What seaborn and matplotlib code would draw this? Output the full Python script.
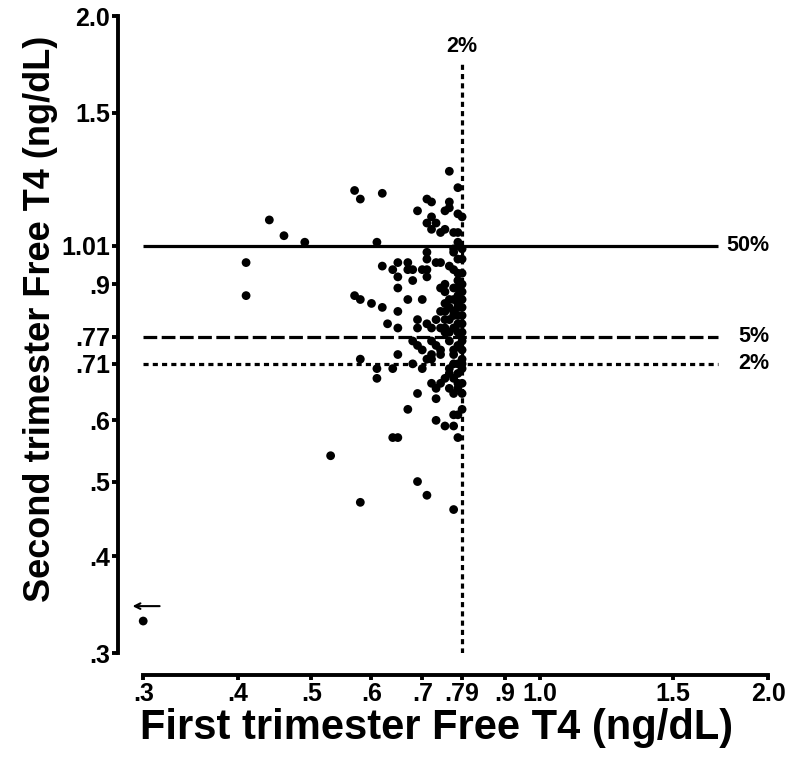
import matplotlib
matplotlib.use("Agg")
import matplotlib.pyplot as plt
import matplotlib.ticker as mticker
import pandas as pd
import seaborn as sns

# first / second trimester free T4 per subject (ng/dL)
first_fT4 = [
    0.76, 0.78, 0.57, 0.58, 0.62, 0.71, 0.72, 0.76, 0.76, 0.75, 0.69, 0.78, 0.79, 0.72,
    0.44, 0.71, 0.73, 0.72, 0.74, 0.75, 0.77, 0.78, 0.46, 0.49, 0.61, 0.78, 0.77, 0.77,
    0.78, 0.79, 0.71, 0.71, 0.41, 0.62, 0.64, 0.65, 0.67, 0.67, 0.68, 0.70, 0.65, 0.68,
    0.71, 0.71, 0.73, 0.74, 0.76, 0.77, 0.78, 0.74, 0.75, 0.65, 0.67, 0.70, 0.41, 0.57,
    0.58, 0.60, 0.62, 0.65, 0.63, 0.65, 0.69, 0.69, 0.71, 0.72,
    0.75, 0.77, 0.78, 0.79, 0.76, 0.78, 0.79, 0.75, 0.76, 0.78, 0.79, 0.74, 0.75, 0.77,
    0.78, 0.75, 0.76, 0.78, 0.79, 0.74, 0.75, 0.77, 0.78, 0.79, 0.76, 0.75, 0.73,
    0.79, 0.79, 0.79, 0.78, 0.77, 0.77, 0.78, 0.79,
    0.68, 0.69, 0.70, 0.71, 0.72, 0.72, 0.73, 0.74, 0.65, 0.72, 0.74, 0.58, 0.68, 0.70,
    0.64, 0.61, 0.61, 0.77, 0.76, 0.78, 0.79, 0.79, 0.79,
    0.76, 0.77, 0.78, 0.79, 0.77, 0.79, 0.76, 0.78,
    0.72, 0.73, 0.74, 0.75, 0.77, 0.78, 0.79, 0.76, 0.77, 0.78, 0.79, 0.69, 0.73, 0.67,
    0.77, 0.78, 0.79, 0.73, 0.75, 0.77, 0.64, 0.65, 0.78, 0.53, 0.69, 0.71, 0.58, 0.77,
    0.30,
]
second_fT4 = [
    1.26, 1.20, 1.19, 1.16, 1.18, 1.16, 1.15, 1.15, 1.13, 1.12, 1.12, 1.11, 1.10, 1.10,
    1.09, 1.08, 1.08, 1.06, 1.05, 1.06, 1.05, 1.05, 1.04, 1.02, 1.02, 1.02, 1.00, 0.99,
    0.97, 1.00, 0.99, 0.97, 0.96, 0.95, 0.94, 0.96, 0.96, 0.94, 0.94, 0.94, 0.92, 0.91,
    0.94, 0.92, 0.96, 0.96, 0.95, 0.94, 0.93, 0.89, 0.90, 0.89, 0.86, 0.86, 0.87, 0.87,
    0.86, 0.85, 0.84, 0.83, 0.80, 0.79, 0.81, 0.79, 0.80, 0.79,
    0.88, 0.89, 0.89, 0.88, 0.86, 0.87, 0.86, 0.85, 0.84, 0.84, 0.84, 0.83, 0.83, 0.82,
    0.82, 0.81, 0.81, 0.80, 0.80, 0.79, 0.79, 0.79, 0.78, 0.78, 0.78, 0.78, 0.81,
    0.97, 0.93, 0.90, 0.91, 0.86, 0.83, 0.85, 0.82,
    0.76, 0.75, 0.74, 0.72, 0.72, 0.76, 0.75, 0.74, 0.73, 0.73, 0.73, 0.72, 0.71, 0.70,
    0.70, 0.70, 0.68, 0.71, 0.70, 0.71, 0.70, 0.71, 0.72,
    0.76, 0.74, 0.75, 0.76, 0.73, 0.74, 0.69, 0.69,
    0.67, 0.66, 0.67, 0.68, 0.68, 0.67, 0.67, 0.66, 0.65, 0.66, 0.65, 0.65, 0.64, 0.62,
    0.61, 0.61, 0.62, 0.60, 0.59, 0.59, 0.57, 0.57, 0.57, 0.54, 0.50, 0.48, 0.47, 0.46,
    0.33,
]

# percentile cut-offs
second_cuts = [1.01, 0.77, 0.71]
second_cut_labels = ["50%", "5%", "2%"]
first_cut = 0.79
first_cut_label = "2%"

x_ticks = [0.3, 0.4, 0.5, 0.6, 0.7, 0.79, 0.9, 1.0, 1.5, 2.0]
x_tick_labels = [".3", ".4", ".5", ".6", ".7", ".79", ".9", "1.0", "1.5", "2.0"]
y_ticks = [0.3, 0.4, 0.5, 0.6, 0.71, 0.77, 0.9, 1.01, 1.5, 2.0]
y_tick_labels = [".3", ".4", ".5", ".6", ".71", ".77", ".9", "1.01", "1.5", "2.0"]

df = pd.DataFrame({"first": first_fT4, "second": second_fT4})

sns.set_style("ticks")
plt.rcParams["font.family"] = ["Liberation Sans", "DejaVu Sans"]
plt.rcParams["font.weight"] = "bold"
plt.rcParams["text.color"] = "black"
plt.rcParams["axes.labelcolor"] = "black"
plt.rcParams["axes.edgecolor"] = "black"
plt.rcParams["xtick.color"] = "black"
plt.rcParams["ytick.color"] = "black"

fig = plt.figure(figsize=(8, 7.71), dpi=100)
ax = fig.add_axes([0.179, 0.153, 0.781, 0.826])

sns.scatterplot(data=df, x="first", y="second", ax=ax, color="black",
                s=40, edgecolor="none", linewidth=0, clip_on=False, zorder=3)

ax.set_xscale("log")
ax.set_yscale("log")
ax.set_xlim(0.3, 2.0)
ax.set_ylim(0.3, 2.0)

# horizontal cut-off lines for the second trimester
line_styles = ["-", (0, (4.3, 1.4)), (0, (1.6, 1.3))]
line_end = 1.72
for cut, lab, ls in zip(second_cuts, second_cut_labels, line_styles):
    ax.plot([0.3, line_end], [cut, cut], color="black", lw=2.3, linestyle=ls,
            solid_capstyle="butt", dash_capstyle="butt", zorder=2)
    ax.text(2.01, cut, lab, ha="right", va="center", fontsize=15.5, fontweight="bold")

# vertical cut-off line for the first trimester
ax.plot([first_cut, first_cut], [0.3, 1.75], color="black", lw=2.3,
        linestyle=(0, (1.6, 1.3)), dash_capstyle="butt", zorder=2)
ax.text(first_cut, 1.83, first_cut_label, ha="center", va="center",
        fontsize=15.5, fontweight="bold")

# off-scale marker arrow
ax.annotate("", xy=(0.288, 0.345), xytext=(0.318, 0.345), annotation_clip=False,
            arrowprops=dict(arrowstyle="->", color="black", lw=1.5))

ax.xaxis.set_major_locator(mticker.FixedLocator(x_ticks))
ax.xaxis.set_major_formatter(mticker.FixedFormatter(x_tick_labels))
ax.yaxis.set_major_locator(mticker.FixedLocator(y_ticks))
ax.yaxis.set_major_formatter(mticker.FixedFormatter(y_tick_labels))
ax.xaxis.set_minor_locator(mticker.NullLocator())
ax.yaxis.set_minor_locator(mticker.NullLocator())

sns.despine(ax=ax)
ax.spines["left"].set_position(("outward", 18))
ax.spines["bottom"].set_position(("outward", 16))
for side in ["left", "bottom"]:
    ax.spines[side].set_linewidth(2.8)
ax.tick_params(axis="both", width=2.8, length=4, labelsize=18, pad=2)
ax.tick_params(axis="x", length=3.5, pad=1.5)
for lab in ax.get_xticklabels() + ax.get_yticklabels():
    lab.set_fontweight("bold")

ax.set_xlabel("First trimester Free T4 (ng/dL)", fontsize=30, fontweight="bold")
ax.set_ylabel("Second trimester Free T4 (ng/dL)", fontsize=26, fontweight="bold")
ax.xaxis.set_label_coords(0.47, -0.086)
ax.yaxis.set_label_coords(-0.136, 0.524)

fig.savefig("out.png", dpi=100)
